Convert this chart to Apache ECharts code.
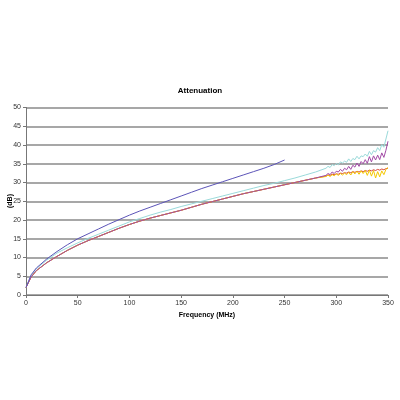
<!DOCTYPE html>
<html>
<head>
<meta charset="utf-8">
<script src="https://cdn.jsdelivr.net/npm/echarts@6/dist/echarts.min.js"></script>
<style>
  html, body { margin: 0; padding: 0; background: #fff; }
  #chart { width: 400px; height: 400px; }
</style>
</head>
<body>
<div id="chart"></div>
<script>
// frequencies (MHz)
const smoothFreq = [0, 5, 10, 20, 30, 40, 50, 60, 70, 80, 90, 100, 110, 120, 130, 140, 150, 160, 170, 180, 190, 200, 210, 220, 230, 240, 250, 260, 270, 280]
const noisyFreq = [290, 292, 294, 296, 298, 300, 302, 304, 306, 308, 310, 312, 314, 316, 318, 320, 322, 324, 326, 328, 330, 332, 334, 336, 338, 340, 342, 344, 346, 348, 350]

// attenuation (dB)
const blueVals = [2, 5.4, 7.2, 9.6, 11.6, 13.4, 15.0, 16.3, 17.6, 18.9, 20.1, 21.3, 22.4, 23.4, 24.4, 25.4, 26.4, 27.4, 28.4, 29.3, 30.2, 31.1, 32.0, 32.9, 33.8, 34.8, 36.0]
const cyanSmooth = [2, 5.2, 7.0, 9.3, 11.2, 12.6, 13.9, 15.1, 16.2, 17.3, 18.4, 19.5, 20.4, 21.3, 22.1, 22.8, 23.6, 24.3, 25.0, 25.7, 26.4, 27.1, 27.8, 28.5, 29.2, 29.8, 30.5, 31.2, 32.0, 32.8]
const cyanNoisy = [33.8, 34.3, 34.0, 34.8, 34.5, 35.1, 34.7, 35.5, 35.2, 35.7, 35.4, 36.3, 35.6, 36.4, 36.1, 37.0, 36.3, 37.1, 36.9, 37.6, 37.0, 38.3, 37.4, 38.5, 38.1, 39.3, 38.5, 40.1, 39.4, 41.6, 43.8]
const lowerSmooth = [2, 4.8, 6.5, 8.6, 10.3, 11.9, 13.3, 14.5, 15.6, 16.7, 17.8, 18.8, 19.7, 20.5, 21.2, 21.9, 22.6, 23.4, 24.2, 24.9, 25.6, 26.3, 27.0, 27.6, 28.2, 28.8, 29.4, 30.0, 30.6, 31.2]
const purpleNoisy = [31.9, 32.4, 32.1, 32.8, 32.4, 33.0, 32.8, 33.5, 33.0, 33.8, 33.4, 34.3, 33.5, 34.6, 34.1, 35.2, 34.3, 35.6, 35.0, 36.1, 35.1, 36.9, 35.5, 37.1, 36.0, 37.3, 36.1, 37.9, 36.7, 38.6, 41.0]
const yellowNoisy = [31.6, 32.0, 31.6, 32.1, 31.8, 32.3, 31.9, 32.4, 32.0, 32.5, 32.1, 32.7, 32.0, 32.9, 32.3, 33.0, 32.2, 33.1, 32.4, 33.2, 31.9, 33.3, 31.7, 33.2, 31.2, 32.9, 31.5, 33.1, 32.1, 33.5, 34.0]
const redNoisy = [31.7, 32.0, 31.9, 32.2, 32.1, 32.3, 32.2, 32.5, 32.4, 32.6, 32.5, 32.8, 32.6, 32.9, 32.7, 33.0, 32.8, 33.1, 32.9, 33.2, 33.0, 33.3, 33.1, 33.4, 33.2, 33.5, 33.3, 33.6, 33.4, 33.7, 33.8]

function pairs(xs, ys) {
  return ys.map((y, i) => [xs[i], y])
}
const allFreq = smoothFreq.concat(noisyFreq)

function line(name, color, data) {
  return {
    name, type: 'line', data,
    symbol: 'none', animation: false,
    lineStyle: { color, width: 1 },
  }
}

const chart = echarts.init(document.getElementById('chart'), null, { renderer: 'canvas' })
chart.setOption({
  backgroundColor: '#fff',
  title: {
    text: 'Attenuation', left: 'center', top: 82,
    textStyle: { fontFamily: 'Liberation Sans', fontSize: 8, fontWeight: 'bold', color: '#000' },
  },
  // y axis title drawn by hand, the axis name kept sliding off the left edge
  graphic: [{
    type: 'text', x: 10, y: 201, rotation: Math.PI / 2,
    style: {
      text: '(dB)', align: 'center', verticalAlign: 'middle',
      font: 'bold 7px "Liberation Sans"', fill: '#000',
    },
  }],
  grid: { left: 26, right: 12, top: 107.5, bottom: 105, containLabel: false, outerBoundsMode: 'none' },
  xAxis: {
    type: 'value', min: 0, max: 350, interval: 50,
    name: 'Frequency (MHz)', nameLocation: 'middle', nameGap: 17,
    nameTextStyle: { fontFamily: 'Liberation Sans', fontSize: 7, fontWeight: 'bold', color: '#000' },
    axisLine: { lineStyle: { color: '#777', width: 1 } },
    axisTick: { show: true, length: 3, lineStyle: { color: '#777' } },
    axisLabel: { fontFamily: 'Liberation Sans', fontSize: 7, color: '#333', margin: 5 },
    splitLine: { show: false },
  },
  yAxis: {
    type: 'value', min: 0, max: 50, interval: 5,
    axisLine: { show: true, lineStyle: { color: '#777', width: 1 } },
    axisTick: { show: true, length: 3, lineStyle: { color: '#777' } },
    axisLabel: { fontFamily: 'Liberation Sans', fontSize: 7, color: '#333', margin: 5 },
    splitLine: { lineStyle: { color: '#8a8a8a', width: 1.5 } },
  },
  series: [
    line('red', '#d84a3a', pairs(allFreq, lowerSmooth.concat(redNoisy))),
    line('cyan', '#9adada', pairs(allFreq, cyanSmooth.concat(cyanNoisy))),
    line('yellow', '#f5c800', pairs(allFreq, lowerSmooth.concat(yellowNoisy))),
    line('purple', '#a24aa6', pairs(allFreq, lowerSmooth.concat(purpleNoisy))),
    line('blue', '#5c54b8', pairs(smoothFreq, blueVals)),
  ],
})
</script>
</body>
</html>
